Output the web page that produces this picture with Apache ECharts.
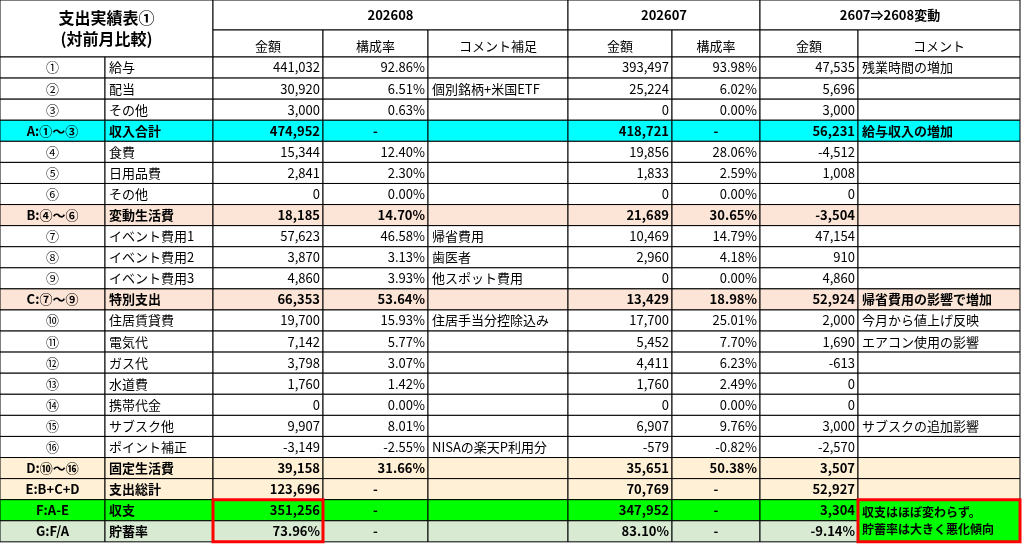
<!DOCTYPE html>
<html><head><meta charset="utf-8">
<script src="https://cdn.jsdelivr.net/npm/echarts@6/dist/echarts.min.js"></script>
<style>html,body{margin:0;background:#fff}#main{width:1024px;height:547px}</style>
</head><body><div id="main"></div>
<script>
// 行データ
var rowNo   = ['①','②','③','A:①～③','④','⑤','⑥','B:④～⑥','⑦','⑧','⑨','C:⑦～⑨','⑩','⑪','⑫','⑬','⑭','⑮','⑯','D:⑩～⑯','E:B+C+D','F:A-E','G:F/A'];
var rowName = ['給与','配当','その他','収入合計','食費','日用品費','その他','変動生活費','イベント費用1','イベント費用2','イベント費用3','特別支出','住居賃貸費','電気代','ガス代','水道費','携帯代金','サブスク他','ポイント補正','固定生活費','支出総計','収支','貯蓄率'];
var amt08   = ['441,032','30,920','3,000','474,952','15,344','2,841','0','18,185','57,623','3,870','4,860','66,353','19,700','7,142','3,798','1,760','0','9,907','-3,149','39,158','123,696','351,256','73.96%'];
var rate08  = ['92.86%','6.51%','0.63%','-','12.40%','2.30%','0.00%','14.70%','46.58%','3.13%','3.93%','53.64%','15.93%','5.77%','3.07%','1.42%','0.00%','8.01%','-2.55%','31.66%','-','-','-'];
var cmt08   = ['','個別銘柄+米国ETF','','','','','','','帰省費用','歯医者','他スポット費用','','住居手当分控除込み','','','','','','NISAの楽天P利用分','','','',''];
var amt07   = ['393,497','25,224','0','418,721','19,856','1,833','0','21,689','10,469','2,960','0','13,429','17,700','5,452','4,411','1,760','0','6,907','-579','35,651','70,769','347,952','83.10%'];
var rate07  = ['93.98%','6.02%','0.00%','-','28.06%','2.59%','0.00%','30.65%','14.79%','4.18%','0.00%','18.98%','25.01%','7.70%','6.23%','2.49%','0.00%','9.76%','-0.82%','50.38%','-','-','-'];
var diff    = ['47,535','5,696','3,000','56,231','-4,512','1,008','0','-3,504','47,154','910','4,860','52,924','2,000','1,690','-613','0','0','3,000','-2,570','3,507','52,927','3,304','-9.14%'];
var cmtDiff = ['残業時間の増加','','','給与収入の増加','','','','','','','','帰省費用の影響で増加','今月から値上げ反映','エアコン使用の影響','','','','サブスクの追加影響','','','','',''];
var rowKind = ['n','n','n','A','n','n','n','B','n','n','n','B','n','n','n','n','n','n','n','D','D','F','G'];

// レイアウト
var colX = [0,105,213,323,428,568,672,760,858,1020];
var headY = [0,30,57];
var rowH = 21.08;
function ry(r){ return 57 + r*rowH; }
var fills = {n:'#ffffff', A:'#00ffff', B:'#fce4d6', D:'#fff0d6', F:'#00ff00', G:'#d9ead3'};

var cells = [];
function cell(c0,c1,y0,y1,text,o){ o=o||{}; cells.push({value:[colX[c0],y0,colX[c1],y1],text:text,fill:o.fill||'#fff',align:o.align||'center',bold:!!o.bold,size:o.size||13,vAlign:o.vAlign||'middle',border:o.border||null}); }

cell(0,2,0,57,'支出実績表①\n(対前月比較)',{bold:true,size:16});
cell(2,5,0,30,'202608',{bold:true});
cell(5,7,0,30,'202607',{bold:true});
cell(7,9,0,30,'2607⇒2608変動',{bold:true});
var sub = ['金額','構成率','コメント補足','金額','構成率','金額','コメント'];
for (var s=0;s<sub.length;s++) cell(2+s,3+s,30,57,sub[s],{vAlign:'bottom'});

for (var r=0;r<rowNo.length;r++){
  var k=rowKind[r], f=fills[k], b=(k!=='n');
  var y0=ry(r), y1=ry(r+1);
  cell(0,1,y0,y1,rowNo[r],{fill:f,bold:b});
  cell(1,2,y0,y1,rowName[r],{fill:f,bold:b,align:'left'});
  cell(2,3,y0,y1,amt08[r],{fill:f,bold:b,align:'right'});
  cell(3,4,y0,y1,rate08[r],{fill:f,bold:b,align:rate08[r]==='-'?'center':'right'});
  cell(4,5,y0,y1,cmt08[r],{fill:f,bold:b,align:'left'});
  cell(5,6,y0,y1,amt07[r],{fill:f,bold:b,align:'right'});
  cell(6,7,y0,y1,rate07[r],{fill:f,bold:b,align:rate07[r]==='-'?'center':'right'});
  cell(7,8,y0,y1,diff[r],{fill:f,bold:b,align:'right'});
  if (k!=='F' && k!=='G') cell(8,9,y0,y1,cmtDiff[r],{fill:f,bold:b,align:'left'});
}
cell(8,9,ry(21),ry(23),'収支はほぼ変わらず。\n貯蓄率は大きく悪化傾向',{fill:'#00ff00',bold:true,align:'left',size:12,border:'#ff0000'});
// 赤枠
cells.push({value:[colX[2],ry(21),colX[3],ry(23)],text:'',fill:'none',border:'#ff0000',align:'center',size:13,vAlign:'middle'});

var myChart = echarts.init(document.getElementById('main'));
myChart.setOption({
  animation:false,
  grid:{left:0,right:0,top:0,bottom:0},
  xAxis:{type:'value',min:0,max:1024,show:false},
  yAxis:{type:'value',min:0,max:547,inverse:true,show:false},
  series:[{
    type:'custom',
    data:cells,
    renderItem:function(params,api){
      var d=cells[params.dataIndex];
      var p0=api.coord([api.value(0),api.value(1)]), p1=api.coord([api.value(2),api.value(3)]);
      var w=p1[0]-p0[0], h=p1[1]-p0[1];
      var tx = d.align==='left'?p0[0]+4:(d.align==='right'?p1[0]-3:p0[0]+w/2);
      var ty = d.vAlign==='bottom'?p1[1]-2:p0[1]+h/2;
      var children=[{type:'rect',shape:{x:p0[0],y:p0[1],width:w,height:h},
        style:{fill:d.fill==='none'?null:d.fill,stroke:d.border||'#000',lineWidth:d.border?3:1}}];
      if (d.text) children.push({type:'text',style:{x:tx,y:ty,text:d.text,align:d.align,
        verticalAlign:d.vAlign==='bottom'?'bottom':'middle',fill:'#000',lineHeight:d.size+5,
        font:(d.bold?'bold ':'')+d.size+'px "Noto Sans CJK JP", Arial, sans-serif'}});
      return {type:'group',children:children};
    }
  }]
});
</script></body></html>
